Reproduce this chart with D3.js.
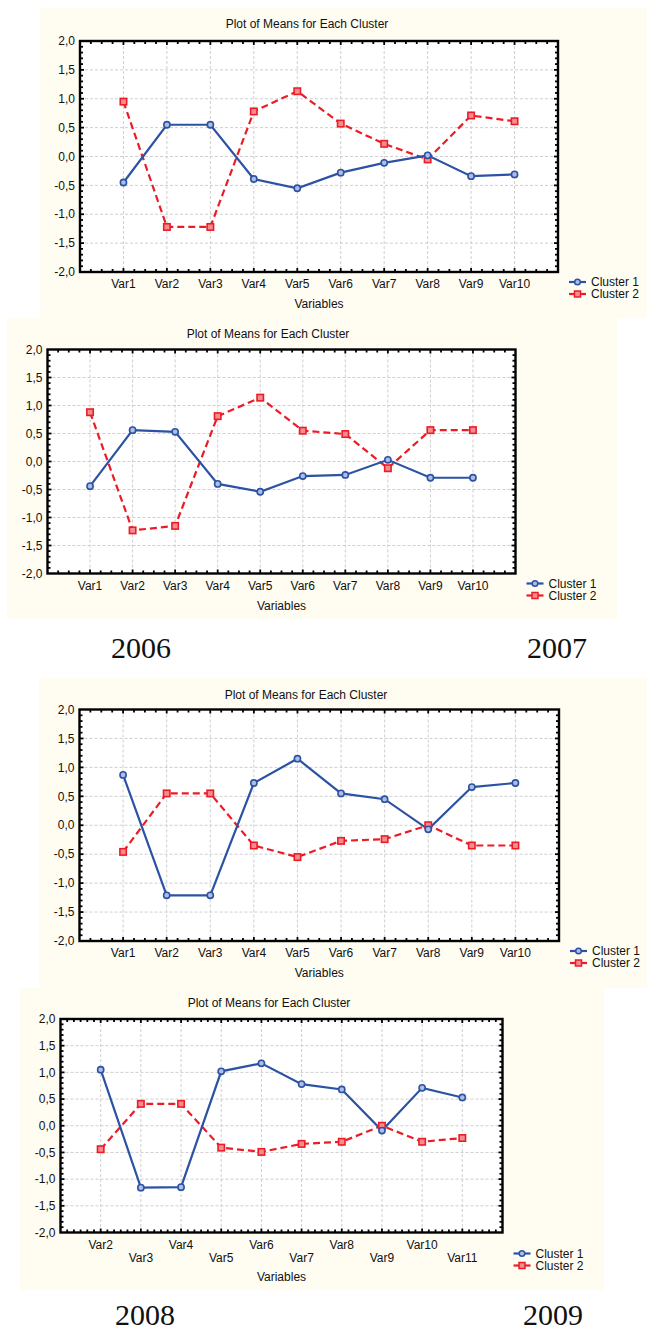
<!DOCTYPE html>
<html>
<head>
<meta charset="utf-8">
<script src="https://cdn.jsdelivr.net/npm/d3@7"></script>
<style>
  html, body { margin: 0; padding: 0; background: #fff; }
  svg { display: block; }
  text { font-family: "Liberation Sans", Arial, sans-serif; fill: #111; }
  .year { font-family: "Liberation Serif", "Times New Roman", serif; }
</style>
</head>
<body>
<div id="chart"></div>
<script>
// category labels
const vars10 = ["Var1", "Var2", "Var3", "Var4", "Var5", "Var6", "Var7", "Var8", "Var9", "Var10"];
const vars11 = ["Var2", "Var3", "Var4", "Var5", "Var6", "Var7", "Var8", "Var9", "Var10", "Var11"];
const yTicks = [-2, -1.5, -1, -0.5, 0, 0.5, 1, 1.5, 2];
const seriesNames = ["Cluster 1", "Cluster 2"];
const chartTitle = "Plot of Means for Each Cluster";
const xTitle = "Variables";

// cluster means, one pair per plot (top to bottom)
const c1PlotA = [-0.45, 0.55, 0.55, -0.39, -0.55, -0.28, -0.11, 0.02, -0.34, -0.31];
const c2PlotA = [0.95, -1.22, -1.22, 0.78, 1.13, 0.57, 0.22, -0.05, 0.71, 0.61];

const c1PlotB = [-0.44, 0.56, 0.53, -0.40, -0.54, -0.26, -0.24, 0.03, -0.29, -0.29];
const c2PlotB = [0.88, -1.23, -1.15, 0.81, 1.14, 0.55, 0.49, -0.12, 0.56, 0.56];

const c1PlotC = [0.87, -1.21, -1.21, 0.73, 1.15, 0.55, 0.45, -0.07, 0.66, 0.73];
const c2PlotC = [-0.46, 0.55, 0.55, -0.35, -0.55, -0.27, -0.24, 0.00, -0.35, -0.35];

const c1PlotD = [1.05, -1.16, -1.15, 1.02, 1.17, 0.78, 0.68, -0.09, 0.71, 0.53];
const c2PlotD = [-0.44, 0.41, 0.41, -0.41, -0.49, -0.34, -0.30, 0.00, -0.30, -0.23];

// year captions
const yearLabels = [
  { text: "2006", x: 141, y: 658 },
  { text: "2007", x: 557, y: 658 },
  { text: "2008", x: 145, y: 1325 },
  { text: "2009", x: 553, y: 1325 }
];

const W = 647, H = 1332;
const blue = "#2c52a3", red = "#ec1c27";
const cream = "#fffcf2";

const svg = d3.select("#chart").append("svg")
  .attr("width", W).attr("height", H);

// panel geometry (background box, plot frame, text offsets)
const panels = [
  { cats: vars10, c1: c1PlotA, c2: c2PlotA, stagger: false, xSub: 4,
    bg: [40, 8, 607, 310], frame: [80, 41, 478, 231], titleX: 307, titleY: 28, legendDy: 10 },
  { cats: vars10, c1: c1PlotB, c2: c2PlotB, stagger: false, xSub: 4,
    bg: [7, 318, 610, 301], frame: [47.5, 349.5, 468, 224], titleX: 268, titleY: 338, legendDy: 10 },
  { cats: vars10, c1: c1PlotC, c2: c2PlotC, stagger: false, xSub: 4,
    bg: [39, 678, 608, 310], frame: [79.5, 709.5, 479.5, 231.5], titleX: 306, titleY: 699, legendDy: 10 },
  { cats: vars11, c1: c1PlotD, c2: c2PlotD, stagger: true, xSub: 6,
    bg: [20, 988, 584, 302], frame: [60.5, 1019, 442, 213.5], titleX: 269, titleY: 1007, legendDy: 21 }
];

function drawPanel(p) {
  const [fx, fy, fw, fh] = p.frame;
  const g = svg.append("g");

  g.append("rect")
    .attr("x", p.bg[0]).attr("y", p.bg[1])
    .attr("width", p.bg[2]).attr("height", p.bg[3])
    .attr("fill", cream);

  const n = p.cats.length;
  const x = d3.scaleLinear().domain([0, n + 1]).range([fx, fx + fw]);
  const y = d3.scaleLinear().domain([-2, 2]).range([fy + fh, fy]);

  g.append("rect")
    .attr("x", fx).attr("y", fy).attr("width", fw).attr("height", fh)
    .attr("fill", "#fff");

  // grid
  g.selectAll(".vgrid").data(p.cats).enter().append("line")
    .attr("x1", (d, i) => x(i + 1)).attr("x2", (d, i) => x(i + 1))
    .attr("y1", fy).attr("y2", fy + fh)
    .attr("stroke", "#cfcfcf").attr("stroke-width", 1).attr("stroke-dasharray", "3,2");
  g.selectAll(".hgrid").data(yTicks.slice(1, -1)).enter().append("line")
    .attr("x1", fx).attr("x2", fx + fw)
    .attr("y1", d => y(d)).attr("y2", d => y(d))
    .attr("stroke", "#cfcfcf").attr("stroke-width", 1).attr("stroke-dasharray", "3,2");

  // inner ticks on all four sides
  const xt = d3.range(1, (n + 1) * p.xSub).map(i => i / p.xSub);
  const yt = d3.range(-19, 20).map(i => i / 10);
  const tk = g.append("g").attr("stroke", "#000").attr("stroke-width", 1.8);
  xt.forEach(v => {
    const len = Number.isInteger(v) ? 4 : 3;
    tk.append("line").attr("x1", x(v)).attr("x2", x(v)).attr("y1", fy).attr("y2", fy + len);
    tk.append("line").attr("x1", x(v)).attr("x2", x(v)).attr("y1", fy + fh).attr("y2", fy + fh - len);
  });
  yt.forEach(v => {
    const len = Math.abs(v * 2 - Math.round(v * 2)) < 1e-6 ? 4 : 3;
    tk.append("line").attr("y1", y(v)).attr("y2", y(v)).attr("x1", fx).attr("x2", fx + len);
    tk.append("line").attr("y1", y(v)).attr("y2", y(v)).attr("x1", fx + fw).attr("x2", fx + fw - len);
  });

  g.append("rect")
    .attr("x", fx).attr("y", fy).attr("width", fw).attr("height", fh)
    .attr("fill", "none").attr("stroke", "#000").attr("stroke-width", 2.4);

  // y axis labels
  const fmt = d => d3.format(".1f")(d).replace(".", ",").replace("−", "-");
  g.selectAll(".ylab").data(yTicks).enter().append("text")
    .attr("x", fx - 5).attr("y", d => y(d)).attr("dy", "0.35em")
    .attr("text-anchor", "end").attr("font-size", 12)
    .text(fmt);

  // x axis labels
  g.selectAll(".xlab").data(p.cats).enter().append("text")
    .attr("x", (d, i) => x(i + 1))
    .attr("y", (d, i) => fy + fh + (p.stagger && i % 2 === 1 ? 29 : 16))
    .attr("text-anchor", "middle").attr("font-size", 12)
    .text(d => d);

  g.append("text")
    .attr("x", fx + fw / 2).attr("y", fy + fh + (p.stagger ? 48 : 36))
    .attr("text-anchor", "middle").attr("font-size", 12)
    .text(xTitle);

  g.append("text")
    .attr("x", p.titleX).attr("y", p.titleY)
    .attr("text-anchor", "middle").attr("font-size", 12)
    .text(chartTitle);

  // series
  const line = d3.line().x((d, i) => x(i + 1)).y(d => y(d));
  g.append("path").datum(p.c2).attr("d", line)
    .attr("fill", "none").attr("stroke", red).attr("stroke-width", 2.2)
    .attr("stroke-dasharray", "7,4");
  g.append("path").datum(p.c1).attr("d", line)
    .attr("fill", "none").attr("stroke", blue).attr("stroke-width", 2.2);

  g.selectAll(".sq").data(p.c2).enter().append("rect")
    .attr("x", (d, i) => x(i + 1) - 3.2).attr("y", d => y(d) - 3.2)
    .attr("width", 6.4).attr("height", 6.4)
    .attr("fill", "#f48d91").attr("stroke", red).attr("stroke-width", 1.6);
  g.selectAll(".dot").data(p.c1).enter().append("circle")
    .attr("cx", (d, i) => x(i + 1)).attr("cy", d => y(d)).attr("r", 3.1)
    .attr("fill", "#aebde3").attr("stroke", blue).attr("stroke-width", 1.6);

  // legend
  const lx = fx + fw + 11;
  const ly = fy + fh + p.legendDy;
  seriesNames.forEach((name, k) => {
    const yy = ly + k * 12;
    const col = k === 0 ? blue : red;
    g.append("line").attr("x1", lx).attr("x2", lx + 17).attr("y1", yy).attr("y2", yy)
      .attr("stroke", col).attr("stroke-width", 2.2);
    if (k === 0) {
      g.append("circle").attr("cx", lx + 8.5).attr("cy", yy).attr("r", 2.8)
        .attr("fill", "#aebde3").attr("stroke", col).attr("stroke-width", 1.5);
    } else {
      g.append("rect").attr("x", lx + 5.5).attr("y", yy - 3).attr("width", 6).attr("height", 6)
        .attr("fill", "#f48d91").attr("stroke", col).attr("stroke-width", 1.5);
    }
    g.append("text").attr("x", lx + 22).attr("y", yy).attr("dy", "0.35em")
      .attr("font-size", 12).text(name);
  });
}

panels.forEach(drawPanel);

svg.selectAll(".year").data(yearLabels).enter().append("text")
  .attr("class", "year")
  .attr("x", d => d.x).attr("y", d => d.y)
  .attr("text-anchor", "middle").attr("font-size", 30)
  .text(d => d.text);
</script>
</body>
</html>
